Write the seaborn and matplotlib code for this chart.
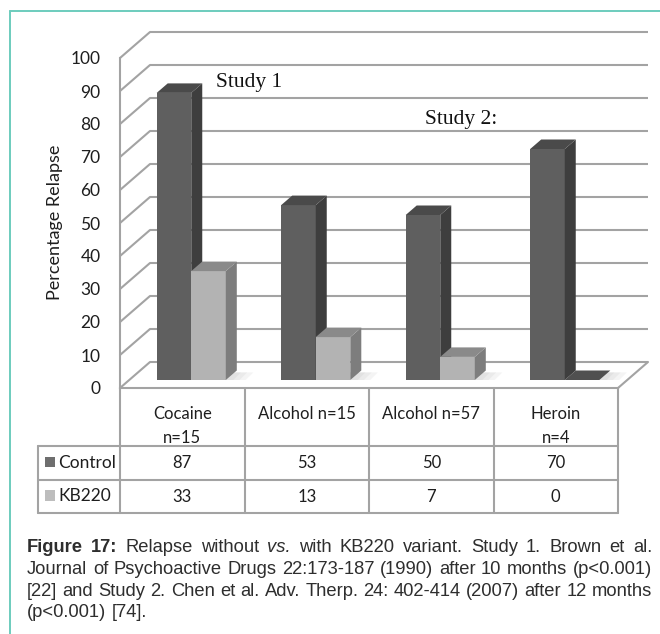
import matplotlib
matplotlib.use("Agg")
import matplotlib.pyplot as plt
import numpy as np
import pandas as pd
import seaborn as sns
from matplotlib.transforms import ScaledTranslation
from matplotlib.lines import Line2D
from matplotlib.patches import Polygon, Rectangle

# ---- data -------------------------------------------------------------
categories = ["Cocaine\nn=15", "Alcohol n=15", "Alcohol n=57", "Heroin\nn=4"]
series = ["Control", "KB220"]
control = [87, 53, 50, 70]
kb220 = [33, 13, 7, 0]
yticks = list(range(0, 101, 10))

# ---- style ------------------------------------------------------------
sns.set_style("white")
plt.rcParams["font.family"] = ["Lato", "DejaVu Sans"]

front_col = {"Control": "#5f5f5f", "KB220": "#b3b3b3"}
side_col = {"Control": "#3e3e3e", "KB220": "#7d7d7d"}
top_col = {"Control": "#4a4a4a", "KB220": "#8a8a8a"}
key_col = {"Control": "#6e6e6e", "KB220": "#bdbdbd"}
grid_col = "#a3a3a3"
text_col = "#1e1e1e"
frame_col = "#6cccbd"

W, H = 660, 634
fig = plt.figure(figsize=(W / 100, H / 100), dpi=100)


def fx(px):
    return px / W


def fy(py):
    return 1 - py / H


# front plane of the 3-D box: x 120..618 px, y 58..388 px (from top)
ax_left, ax_right, ax_top, ax_bottom = 120, 618, 58, 388
ax = fig.add_axes([fx(ax_left), fy(ax_bottom), (ax_right - ax_left) / W,
                   (ax_bottom - ax_top) / H])

df = pd.DataFrame({
    "category": categories * 2,
    "group": ["Control"] * len(categories) + ["KB220"] * len(categories),
    "value": control + kb220,
})

sns.barplot(data=df, x="category", y="value", hue="group", order=categories,
            hue_order=series, palette=front_col, width=0.555, gap=0,
            saturation=1, errorbar=None, legend=False, linewidth=0, ax=ax)

ax.set_xlim(-0.5, len(categories) - 0.5)
ax.set_ylim(0, 100)
ax.set_xticks([])
ax.set_xlabel("")
ax.set_ylabel("")
ax.set_yticks(yticks)
ax.tick_params(axis="y", length=0, pad=14, labelsize=12.5, labelcolor=text_col)
for s in ["top", "right"]:
    ax.spines[s].set_visible(False)
for s in ["left", "bottom"]:
    ax.spines[s].set_color(grid_col)
    ax.spines[s].set_linewidth(1.5)
    ax.spines[s].set_zorder(1)

px_x = (ax_right - ax_left) / len(categories)   # pixels per category unit
px_y = (ax_bottom - ax_top) / 100.0             # pixels per percent

# back wall and side wall
bx, by = 30 / px_x, 26 / px_y
x_lo, x_hi = -0.5, len(categories) - 0.5
for v in yticks:
    ax.plot([x_lo + bx, x_hi + bx], [v + by, v + by], color=grid_col, lw=1.5,
            clip_on=False, zorder=1, solid_capstyle="butt")
    ax.plot([x_lo, x_lo + bx], [v, v + by], color=grid_col, lw=1.5,
            clip_on=False, zorder=1)
ax.plot([x_hi, x_hi + bx], [0, by], color=grid_col, lw=1.5, clip_on=False,
        zorder=1)

# bars sit in a plane slightly behind the front edge of the floor
mid = ax.transData + ScaledTranslation(9 / 100, 8 / 100, fig.dpi_scale_trans)
ddx, ddy = 11 / px_x, 9.5 / px_y

# soft floor shadow behind each cluster (a few faint layers)
for i in range(len(categories)):
    xs = i - 0.555 / 2 + 0.03
    for k, grow in enumerate([0.16, 0.11, 0.06]):
        xe = i + 0.555 / 2 + grow
        shadow = Polygon([(xs, 0), (xe, 0), (xe + ddx * 0.7, ddy * 0.8),
                          (xs + ddx, ddy * 0.8)], closed=True, transform=mid,
                         facecolor="#8c8c8c", alpha=0.09, edgecolor="none",
                         zorder=1.5, clip_on=False)
        ax.add_patch(shadow)

for si, (name, cont) in enumerate(zip(series, ax.containers)):
    z = 3 + si
    for patch in cont.patches:
        patch.set_transform(mid)
        patch.set_zorder(z)
        patch.set_clip_on(False)
        x0, w, h = patch.get_x(), patch.get_width(), patch.get_height()
        side = Polygon([(x0 + w, 0), (x0 + w + ddx, ddy), (x0 + w + ddx, h + ddy),
                        (x0 + w, h)], closed=True, transform=mid,
                       facecolor=side_col[name], edgecolor="none", zorder=z,
                       clip_on=False)
        tc = top_col[name] if h > 0 else "#505050"
        top = Polygon([(x0, h), (x0 + ddx, h + ddy), (x0 + w + ddx, h + ddy),
                       (x0 + w, h)], closed=True, transform=mid,
                      facecolor=tc, edgecolor="none", zorder=z, clip_on=False)
        ax.add_patch(side)
        ax.add_patch(top)

# axis title
fig.text(fx(55), fy(222), "Percentage Relapse", rotation=90, ha="center",
         va="center", fontsize=13, color=text_col)

# study annotations
fig.text(fx(216), fy(87), "Study 1", fontfamily="Liberation Serif",
         fontsize=15.5, color="#111111", ha="left", va="baseline")
fig.text(fx(425), fy(124), "Study 2:", fontfamily="Liberation Serif",
         fontsize=15.5, color="#111111", ha="left", va="baseline")

# ---- data table under the chart ----------------------------------------
col_px = [ax_left + i * px_x for i in range(len(categories) + 1)]
row_top, row_a, row_b, row_c = 388, 446, 480, 513
leg_left = 38


def hline(y, x0, x1):
    fig.add_artist(Line2D([fx(x0), fx(x1)], [fy(y), fy(y)], color=grid_col,
                          lw=1.5, transform=fig.transFigure))


def vline(x, y0, y1):
    fig.add_artist(Line2D([fx(x), fx(x)], [fy(y0), fy(y1)], color=grid_col,
                          lw=1.5, transform=fig.transFigure))


for x in col_px:
    vline(x, row_top, row_c)
vline(leg_left, row_a, row_c)
for y in (row_a, row_b, row_c):
    hline(y, leg_left, col_px[-1])

for i, cat in enumerate(categories):
    cx = (col_px[i] + col_px[i + 1]) / 2
    for k, line in enumerate(cat.split("\n")):
        fig.text(fx(cx), fy(419 + 24 * k), line, ha="center", va="baseline",
                 fontsize=12, color=text_col)

row_base = {"Control": 468.5, "KB220": 502}
for name, vals in zip(series, [control, kb220]):
    yb = row_base[name]
    for i, v in enumerate(vals):
        cx = (col_px[i] + col_px[i + 1]) / 2
        fig.text(fx(cx), fy(yb), f"{v}", ha="center", va="baseline",
                 fontsize=12, color=text_col)
    fig.add_artist(Rectangle((fx(45), fy(yb - 1.5)), 10 / W, 10.5 / H,
                             transform=fig.transFigure,
                             facecolor=key_col[name], edgecolor="none"))
    fig.text(fx(58), fy(yb - 1), name, ha="left", va="baseline", fontsize=12.5,
             color=text_col)

# ---- frame --------------------------------------------------------------
fig.add_artist(Line2D([fx(10), 1], [fy(11), fy(11)], color=frame_col, lw=1.4,
                      transform=fig.transFigure))
fig.add_artist(Line2D([fx(10), fx(10)], [fy(11), 0], color=frame_col, lw=1.4,
                      transform=fig.transFigure))

# ---- caption (justified) ------------------------------------------------
cap_font = ["Liberation Sans", "DejaVu Sans"]
cap_col = "#2e2e2e"
caption = [
    [("Figure", "b"), ("17:", "b"), ("Relapse", ""), ("without", ""),
     ("vs.", "i"), ("with", ""), ("KB220", ""), ("variant.", ""),
     ("Study", ""), ("1.", ""), ("Brown", ""), ("et", ""), ("al.", "")],
    [(w, "") for w in "Journal of Psychoactive Drugs 22:173-187 (1990) after "
     "10 months (p<0.001)".split()],
    [(w, "") for w in "[22] and Study 2. Chen et al. Adv. Therp. 24: 402-414 "
     "(2007) after 12 months".split()],
    [(w, "") for w in "(p<0.001) [74].".split()],
]
baselines = [552, 574, 595.5, 617]
cap_x0, cap_x1 = 27, 652

renderer = fig.canvas.get_renderer()
probe = fig.text(0, 0, " ".join(w for w, _ in caption[1]), fontsize=10,
                 fontfamily=cap_font)
probe_w = probe.get_window_extent(renderer).width
probe.remove()
cap_fs = 10 * (cap_x1 - cap_x0 - 4) / probe_w
space_px = 0.278 * cap_fs * 100 / 72

for li, (words, yb) in enumerate(zip(caption, baselines)):
    texts = []
    for w, st in words:
        t = fig.text(0, fy(yb), w, fontsize=cap_fs, fontfamily=cap_font,
                     fontweight="bold" if st == "b" else "normal",
                     fontstyle="italic" if st == "i" else "normal",
                     color=cap_col, ha="left", va="baseline")
        texts.append(t)
    widths = [t.get_window_extent(renderer).width for t in texts]
    last = li == len(caption) - 1
    gap = space_px if last else (cap_x1 - cap_x0 - sum(widths)) / (len(texts) - 1)
    x = cap_x0
    for t, wd in zip(texts, widths):
        t.set_x(fx(x))
        x += wd + gap

fig.savefig("out.png", dpi=100, facecolor="white")
